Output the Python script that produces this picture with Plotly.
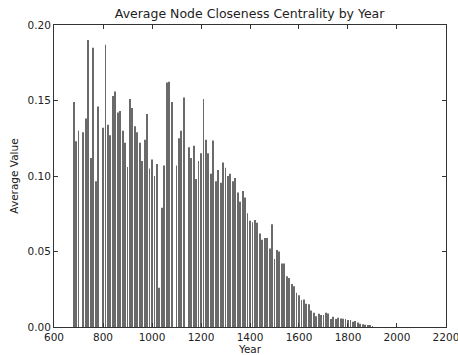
import plotly.graph_objects as go

years = [680, 690, 700, 720, 730, 740, 750, 760, 770, 780,
         800, 810, 820, 830, 840, 850, 860, 870, 880, 890,
         900, 910, 920, 930, 940, 950, 960, 970, 980, 990,
         1000, 1010, 1020, 1030, 1040, 1050, 1060, 1070, 1080,
         1100, 1110, 1120, 1130, 1150, 1160, 1170, 1180, 1190,
         1200, 1210, 1220, 1230, 1240, 1250, 1260, 1270, 1280, 1290,
         1300, 1310, 1320, 1330, 1340, 1350, 1360, 1370, 1380, 1390,
         1400, 1410, 1420, 1430, 1440, 1450, 1460, 1470, 1480, 1490,
         1500, 1510, 1520, 1530, 1540, 1550, 1560, 1570, 1580, 1590,
         1600, 1610, 1620, 1630, 1640, 1650, 1660, 1670, 1680, 1690,
         1700, 1710, 1720, 1730, 1740, 1750, 1760, 1770, 1780, 1790,
         1800, 1810, 1820, 1830, 1840, 1850, 1860, 1870, 1880, 1890,
         1900]

values = [0.149, 0.123, 0.130, 0.129, 0.138, 0.190, 0.112, 0.185, 0.0965, 0.146,
          0.132, 0.187, 0.134, 0.127, 0.153, 0.156, 0.142, 0.143, 0.130, 0.122,
          0.106, 0.151, 0.145, 0.133, 0.129, 0.122, 0.110, 0.124, 0.141, 0.105,
          0.111, 0.100, 0.108, 0.026, 0.079, 0.107, 0.162, 0.1625, 0.149,
          0.107, 0.125, 0.130, 0.152, 0.119, 0.112, 0.120, 0.098, 0.110,
          0.115, 0.151, 0.124, 0.115, 0.1015, 0.1235, 0.0965, 0.104, 0.0956, 0.109,
          0.1055, 0.100, 0.1015, 0.0965, 0.0987, 0.089, 0.083, 0.090, 0.0857, 0.0753,
          0.0704, 0.0693, 0.0709, 0.069, 0.062, 0.0577, 0.059, 0.059, 0.052, 0.068,
          0.045, 0.051, 0.050, 0.042, 0.042, 0.0336, 0.0325, 0.0285, 0.027, 0.0226,
          0.021, 0.0178, 0.0182, 0.0154, 0.015, 0.011, 0.0094, 0.0072, 0.0088, 0.008,
          0.008, 0.0094, 0.009, 0.0053, 0.0068, 0.0053, 0.0061, 0.0057, 0.0055, 0.0053,
          0.0046, 0.0046, 0.0035, 0.004, 0.003, 0.0022, 0.0018, 0.0015, 0.0009, 0.0007,
          0.0004]

x_ticks = [600, 800, 1000, 1200, 1400, 1600, 1800, 2000, 2200]
y_ticks = [0.00, 0.05, 0.10, 0.15, 0.20]

fig = go.Figure(go.Bar(
    x=years, y=values, width=3.6,
    marker=dict(color="#6a6a6a", line=dict(width=0)),
))

font = "DejaVu Sans"
axis_common = dict(
    showline=True, linecolor="#333333", linewidth=1, mirror="ticks",
    ticks="inside", ticklen=4, tickcolor="#333333", showgrid=False,
    zeroline=False, ticklabeloverflow="allow", automargin=False,
    tickfont=dict(family=font, size=10.5, color="#222222"),
)

fig.update_layout(
    width=458, height=355,
    margin=dict(l=54, r=12, t=25, b=28),
    paper_bgcolor="white", plot_bgcolor="white",
    showlegend=False,
    title=dict(text="Average Node Closeness Centrality by Year",
               font=dict(family=font, size=12.5, color="#222222"),
               x=0.545, xanchor="center", y=0.963, yanchor="middle"),
    xaxis=dict(range=[599.9, 2200.1], tickvals=x_ticks,
               ticktext=[str(v) for v in x_ticks],
               title=dict(text="Year", standoff=2,
                          font=dict(family=font, size=10.5, color="#222222")),
               **axis_common),
    yaxis=dict(range=[0, 0.2], tickvals=y_ticks,
               ticktext=[f"{v:.2f}" for v in y_ticks],
               title=dict(text="Average Value", standoff=6,
                          font=dict(family=font, size=10.5, color="#222222")),
               **axis_common),
)

fig.write_html("out.html")
